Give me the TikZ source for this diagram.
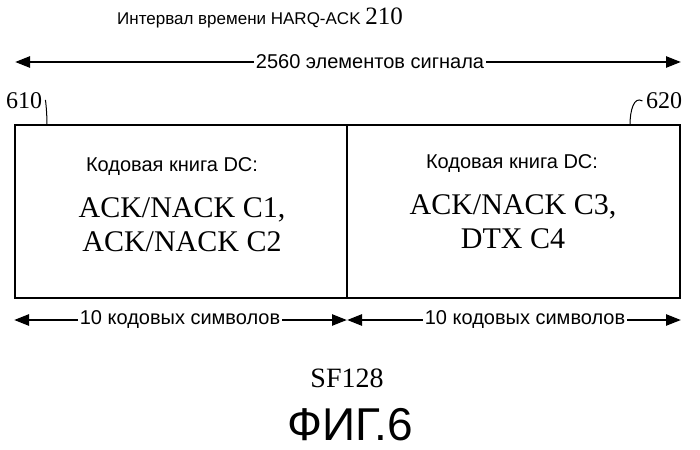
\documentclass[tikz,border=0pt]{standalone}
\usepackage{fontspec}
\setmainfont{Liberation Serif}
\setsansfont{Liberation Sans}
\usetikzlibrary{arrows.meta, positioning}

\begin{document}
\begin{tikzpicture}[x=1pt, y=-1pt,
		lbl/.style={font=\sffamily\fontsize{20}{22}\selectfont, fill=white, inner sep=2pt},
		big/.style={font=\rmfamily\fontsize{30}{34}\selectfont, align=center},
		span/.style={line width=2.5pt, {Triangle[length=15pt,width=11pt]}-{Triangle[length=15pt,width=11pt]}}]
		\useasboundingbox (0,0) rectangle (700,449);
		
		% title
		\node (title) at (260,18) {\sffamily\fontsize{17}{20}\selectfont Интервал времени HARQ-ACK \rmfamily\fontsize{25}{28}\selectfont 210};
		
		% total span
		\coordinate (TL) at (15,62);
		\coordinate (TR) at (681,62);
		\draw[span] (TL) -- (TR);
		\node[lbl] (total) at (370,62) {2560 элементов сигнала};
		
		% box and divider
		\draw[line width=1.2pt] (15,125) rectangle (680,298);
		\draw[line width=1.2pt] (347,125) -- (347,298);
		
		\node[font=\sffamily\fontsize{20}{22}\selectfont] (hA) at (172,167) {Кодовая книга DC:};
		\node[big] (cA) at (182,225) {ACK/NACK C1,\\ACK/NACK C2};
		\node[font=\sffamily\fontsize{20}{22}\selectfont] (hB) at (512,164) {Кодовая книга DC:};
		\node[big] (cB) at (513,222) {ACK/NACK C3,\\DTX C4};
		
		% reference labels
		\node[font=\rmfamily\fontsize{24}{26}\selectfont] (n610) at (24,101) {610};
		\node[font=\rmfamily\fontsize{24}{26}\selectfont] (n620) at (664,101) {620};
		\draw[line width=1pt] (n610.east) .. controls (45,96) and (47,110) .. (47,125);
		\draw[line width=1pt] (n620.west) .. controls (634,96) and (630,110) .. (630,125);
		
		% symbol spans
		\coordinate (L1) at (14,320);
		\coordinate (L2) at (347,320);
		\coordinate (R1) at (347,320);
		\coordinate (R2) at (681,320);
		\draw[span] (L1) -- (L2);
		\draw[span] (R1) -- (R2);
		\node[lbl] (symA) at (180,320) {10 кодовых символов};
		\node[lbl] (symB) at (525,320) {10 кодовых символов};
		
		\node[font=\rmfamily\fontsize{28}{30}\selectfont] (sf) at (347,378) {SF128};
		\node[font=\sffamily\fontsize{46}{50}\selectfont] (fig) at (350,425) {ФИГ.6};
	\end{tikzpicture}
\end{document}
